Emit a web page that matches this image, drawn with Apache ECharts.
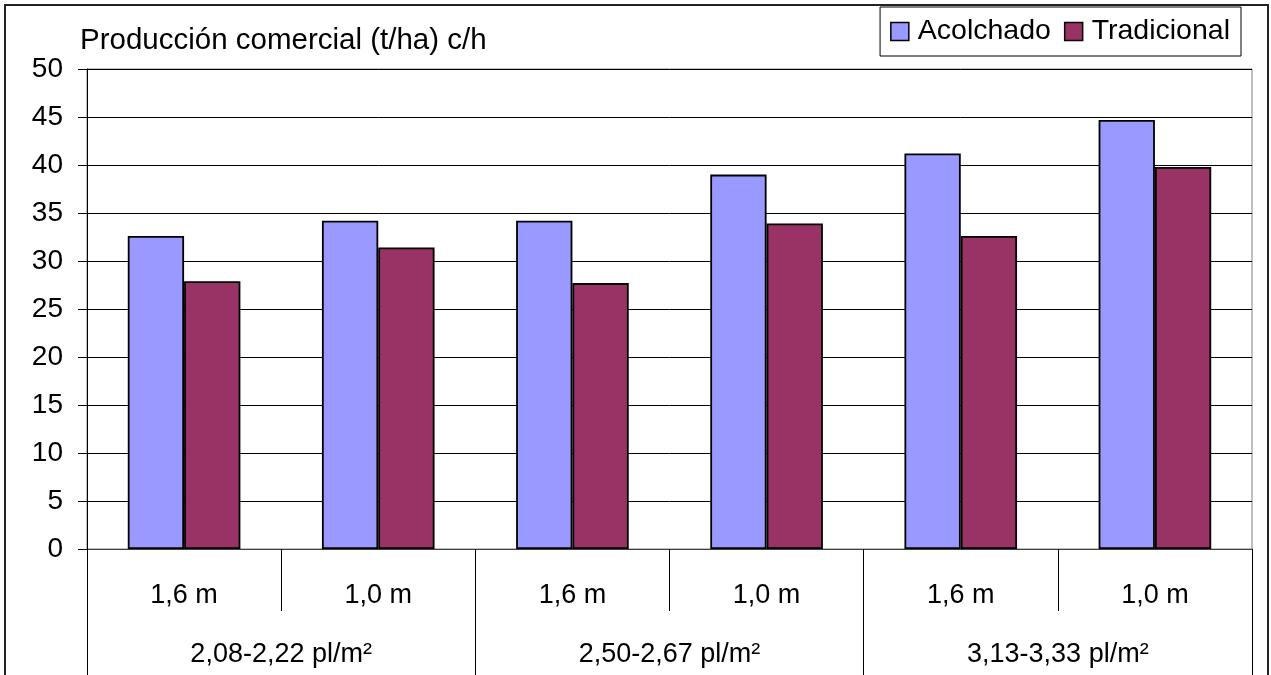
<!DOCTYPE html>
<html>
<head>
<meta charset="utf-8">
<script src="https://cdn.jsdelivr.net/npm/echarts@6/dist/echarts.min.js"></script>
<style>
html,body{margin:0;padding:0;background:#fff;}
#chart{width:1271px;height:675px;}
</style>
</head>
<body>
<div id="chart"></div>
<script>
const innerCategories = ['1,6 m', '1,0 m', '1,6 m', '1,0 m', '1,6 m', '1,0 m'];
const groupCategories = ['2,08-2,22 pl/m²', '2,50-2,67 pl/m²', '3,13-3,33 pl/m²'];
const acolchado = [32.6, 34.2, 34.2, 39.0, 41.2, 44.7];
const tradicional = [27.9, 31.4, 27.7, 33.9, 32.6, 39.8];
const seriesNames = ['Acolchado', 'Tradicional'];
const yTicks = {min: 0, max: 50, interval: 5};

const FONT = '"Liberation Sans", Arial, sans-serif';
const FS = 27;

const chart = echarts.init(document.getElementById('chart'), null, {renderer: 'canvas'});
chart.setOption({
  backgroundColor: '#fff',
  animation: false,
  title: {
    text: 'Producción comercial (t/ha) c/h',
    left: 75, top: 21,
    textStyle: {fontFamily: FONT, fontSize: 29.5, fontWeight: 'normal', color: '#000'}
  },
  legend: {
    data: seriesNames,
    right: 30, top: 7,
    padding: [10, 11, 10, 10],
    borderColor: '#000', borderWidth: 1,
    backgroundColor: '#fff',
    itemWidth: 18, itemHeight: 18, itemGap: 13,
    icon: 'rect',
    itemStyle: {borderColor: '#000', borderWidth: 1.5},
    textStyle: {fontFamily: FONT, fontSize: 28.5, color: '#000', padding: [0, 0, 0, 4]}
  },
  graphic: [{
    type: 'rect', z: -1, silent: true,
    shape: {x: 5, y: 5, width: 1263, height: 720},
    style: {fill: 'none', stroke: '#222', lineWidth: 2}
  }],
  grid: {
    left: 87, right: 19, top: 69, bottom: 126,
    show: true, borderColor: '#808080', borderWidth: 1, backgroundColor: 'transparent'
  },
  xAxis: [{
    type: 'category',
    data: innerCategories,
    position: 'bottom',
    axisLine: {show: true, lineStyle: {color: '#404040', width: 1}},
    axisTick: {show: true, interval: 0, length: 62, lineStyle: {color: '#000'}},
    axisLabel: {interval: 0, margin: 33, fontFamily: FONT, fontSize: FS, color: '#000'},
    splitLine: {show: false}
  }, {
    type: 'category',
    data: groupCategories,
    position: 'bottom',
    axisLine: {show: false},
    axisTick: {show: true, interval: 0, length: 130, lineStyle: {color: '#000'}},
    axisLabel: {interval: 0, margin: 92, fontFamily: FONT, fontSize: FS, color: '#000'},
    splitLine: {show: false}
  }],
  yAxis: {
    type: 'value',
    min: yTicks.min, max: yTicks.max, interval: yTicks.interval,
    axisLine: {show: true, lineStyle: {color: '#000', width: 1}},
    axisTick: {show: true, length: 9, lineStyle: {color: '#000'}},
    axisLabel: {margin: 24, fontFamily: FONT, fontSize: 28, color: '#000'},
    splitLine: {show: true, lineStyle: {color: '#000', width: 1}}
  },
  series: [{
    name: seriesNames[0], type: 'bar', xAxisIndex: 0,
    data: acolchado,
    barGap: '0%', barCategoryGap: '42%',
    itemStyle: {color: '#9999FF', borderColor: '#000', borderWidth: 1.8}
  }, {
    name: seriesNames[1], type: 'bar', xAxisIndex: 0,
    data: tradicional,
    barGap: '0%', barCategoryGap: '42%',
    itemStyle: {color: '#993366', borderColor: '#000', borderWidth: 1.8}
  }]
});
</script>
</body>
</html>
